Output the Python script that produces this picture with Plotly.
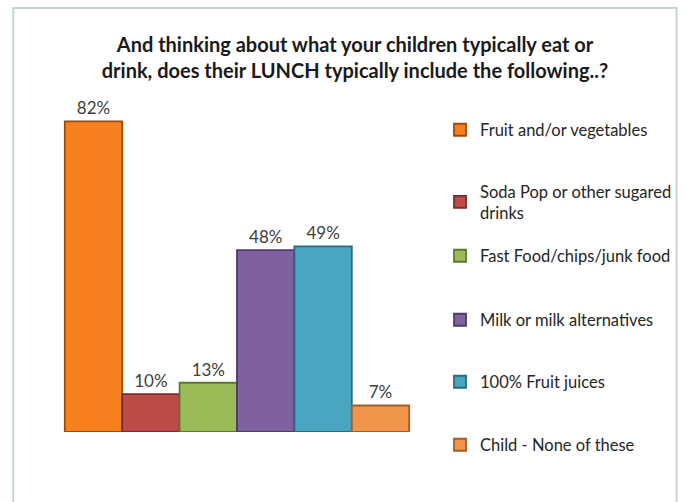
import plotly.graph_objects as go

# Survey responses: share of children whose lunch includes each item
items = [
    "Fruit and/or vegetables",
    "Soda Pop or other sugared<br>drinks",
    "Fast Food/chips/junk food",
    "Milk or milk alternatives",
    "100% Fruit juices",
    "Child - None of these",
]
shares = [82, 10, 13, 48, 49, 7]

fills = ["#F7801E", "#BE4B48", "#9BBB59", "#7F619F", "#4AA5C0", "#F0954A"]
edges = ["#9A4A0C", "#7A2C2A", "#5E7A30", "#4E3A66", "#2A6A7E", "#A05E26"]

# vertical centre (in px from top) of each legend entry
legend_centres = [130, 202, 256, 320, 382, 445]

W, H = 689, 502
ML, MR, MT, MB = 32, 241, 91, 70
plot_h = H - MT - MB
plot_w = W - ML - MR

fig = go.Figure()
for i, (name, val, fc, ec) in enumerate(zip(items, shares, fills, edges)):
    leg = "legend" if i == 0 else f"legend{i + 1}"
    fig.add_trace(go.Bar(
        x=[""], y=[val], name=name,
        marker=dict(color=fc, line=dict(color=ec, width=1.8)),
        text=[f"{val}%"], textposition="outside", cliponaxis=False,
        textfont=dict(family="Lato", size=17, color="#404040"),
        legend=leg,
    ))

layout_legends = {}
for i, cy in enumerate(legend_centres):
    key = "legend" if i == 0 else f"legend{i + 1}"
    layout_legends[key] = dict(
        x=(446 - ML) / plot_w, xanchor="left",
        y=(H - MB - cy) / plot_h, yanchor="middle",
        font=dict(family="Lato", size=16.5, color="#262626"),
        bgcolor="rgba(0,0,0,0)", itemwidth=30,
        itemclick=False, itemdoubleclick=False,
    )

fig.update_layout(
    width=W, height=H,
    margin=dict(l=ML, r=MR, t=MT, b=MB),
    paper_bgcolor="white", plot_bgcolor="white",
    barmode="group", bargap=0.16, bargroupgap=0,
    showlegend=True,
    title=dict(
        text="And thinking about what your children typically eat or<br>"
             "drink, does their LUNCH typically include the following..?",
        x=355 / W, xref="container", xanchor="center",
        y=(H - 52) / H, yref="container", yanchor="middle",
        font=dict(family="Lato", size=20, color="#1a1a1a", weight="bold"),
    ),
    xaxis=dict(visible=False),
    yaxis=dict(visible=False, range=[0, 90]),
    shapes=[dict(
        type="rect", xref="paper", yref="paper",
        x0=(13 - ML) / plot_w, x1=(686 - ML) / plot_w,
        y0=(H - MB - 520) / plot_h, y1=(H - MB - 8) / plot_h,
        line=dict(color="#C3D3D8", width=2), fillcolor="rgba(0,0,0,0)",
        layer="below",
    )],
    **layout_legends,
)

fig.write_html("out.html")
